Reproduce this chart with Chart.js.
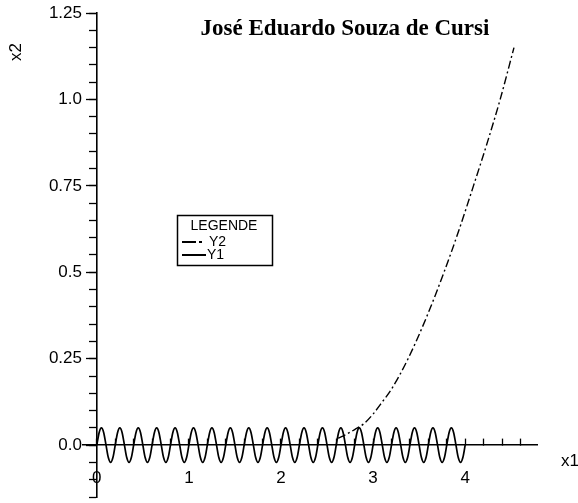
<!DOCTYPE html>
<html>
<head>
<meta charset="utf-8">
<script src="https://cdn.jsdelivr.net/npm/chart.js@4"></script>
<style>
html, body { margin: 0; padding: 0; background: #fff; }
#wrap { width: 578px; height: 503px; }
</style>
</head>
<body>
<div id="wrap"><canvas id="chart"></canvas></div>
<script>
// Y1: oscillation read at eighth periods
const y1X = [
    0, 0.025, 0.05, 0.075, 0.1, 0.125, 0.15, 0.175, 0.2, 0.225, 0.25, 0.275, 0.3, 0.325, 0.35, 0.375, 0.4, 0.425, 0.45, 0.475,
    0.5, 0.525, 0.55, 0.575, 0.6, 0.625, 0.65, 0.675, 0.7, 0.725, 0.75, 0.775, 0.8, 0.825, 0.85, 0.875, 0.9, 0.925, 0.95, 0.975,
    1, 1.025, 1.05, 1.075, 1.1, 1.125, 1.15, 1.175, 1.2, 1.225, 1.25, 1.275, 1.3, 1.325, 1.35, 1.375, 1.4, 1.425, 1.45, 1.475,
    1.5, 1.525, 1.55, 1.575, 1.6, 1.625, 1.65, 1.675, 1.7, 1.725, 1.75, 1.775, 1.8, 1.825, 1.85, 1.875, 1.9, 1.925, 1.95, 1.975,
    2, 2.025, 2.05, 2.075, 2.1, 2.125, 2.15, 2.175, 2.2, 2.225, 2.25, 2.275, 2.3, 2.325, 2.35, 2.375, 2.4, 2.425, 2.45, 2.475,
    2.5, 2.525, 2.55, 2.575, 2.6, 2.625, 2.65, 2.675, 2.7, 2.725, 2.75, 2.775, 2.8, 2.825, 2.85, 2.875, 2.9, 2.925, 2.95, 2.975,
    3, 3.025, 3.05, 3.075, 3.1, 3.125, 3.15, 3.175, 3.2, 3.225, 3.25, 3.275, 3.3, 3.325, 3.35, 3.375, 3.4, 3.425, 3.45, 3.475,
    3.5, 3.525, 3.55, 3.575, 3.6, 3.625, 3.65, 3.675, 3.7, 3.725, 3.75, 3.775, 3.8, 3.825, 3.85, 3.875, 3.9, 3.925, 3.95, 3.975,
    4
];
const y1Y = [
    0, 0.036, 0.05, 0.036, 0, -0.036, -0.05, -0.036, 0, 0.036, 0.05, 0.036, 0, -0.036, -0.05, -0.036, 0, 0.036, 0.05, 0.036,
    0, -0.036, -0.05, -0.036, 0, 0.036, 0.05, 0.036, 0, -0.036, -0.05, -0.036, 0, 0.036, 0.05, 0.036, 0, -0.036, -0.05, -0.036,
    0, 0.036, 0.05, 0.036, 0, -0.036, -0.05, -0.036, 0, 0.036, 0.05, 0.036, 0, -0.036, -0.05, -0.036, 0, 0.036, 0.05, 0.036,
    0, -0.036, -0.05, -0.036, 0, 0.036, 0.05, 0.036, 0, -0.036, -0.05, -0.036, 0, 0.036, 0.05, 0.036, 0, -0.036, -0.05, -0.036,
    0, 0.036, 0.05, 0.036, 0, -0.036, -0.05, -0.036, 0, 0.036, 0.05, 0.036, 0, -0.036, -0.05, -0.036, 0, 0.036, 0.05, 0.036,
    0, -0.036, -0.05, -0.036, 0, 0.036, 0.05, 0.036, 0, -0.036, -0.05, -0.036, 0, 0.036, 0.05, 0.036, 0, -0.036, -0.05, -0.036,
    0, 0.036, 0.05, 0.036, 0, -0.036, -0.05, -0.036, 0, 0.036, 0.05, 0.036, 0, -0.036, -0.05, -0.036, 0, 0.036, 0.05, 0.036,
    0, -0.036, -0.05, -0.036, 0, 0.036, 0.05, 0.036, 0, -0.036, -0.05, -0.036, 0, 0.036, 0.05, 0.036, 0, -0.036, -0.05, -0.036,
    0
];

// Y2: rising curve
const y2X = [2.62, 2.70, 2.80, 2.90, 3.0, 3.1, 3.2, 3.38, 3.58, 3.77, 3.93, 4.09, 4.24, 4.38, 4.53];
const y2Y = [0.02, 0.03, 0.045, 0.062, 0.09, 0.125, 0.162, 0.25, 0.37, 0.5, 0.62, 0.75, 0.875, 1.0, 1.15];

// ticks
const xTickValues = [0, 0.2, 0.4, 0.6, 0.8, 1, 1.2, 1.4, 1.6, 1.8, 2, 2.2, 2.4, 2.6, 2.8, 3, 3.2, 3.4, 3.6, 3.8, 4, 4.2, 4.4, 4.6];
const xLabelValues = [0, 1, 2, 3, 4];
const xLabelTexts = ['0', '1', '2', '3', '4'];
const yTickValues = [-0.15, -0.1, -0.05, 0, 0.05, 0.1, 0.15, 0.2, 0.25, 0.3, 0.35, 0.4, 0.45, 0.5, 0.55, 0.6,
    0.65, 0.7, 0.75, 0.8, 0.85, 0.9, 0.95, 1, 1.05, 1.1, 1.15, 1.2, 1.25];
const yLabelValues = [0, 0.25, 0.5, 0.75, 1, 1.25];
const yLabelTexts = ['0.0', '0.25', '0.5', '0.75', '1.0', '1.25'];

const seriesNames = ['Y1', 'Y2'];
const chartTitle = 'José Eduardo Souza de Cursi';
const legendTitle = 'LEGENDE';

const Y_MIN = -0.15, Y_MAX = 1.25;
const tickFont = { family: 'Liberation Sans', size: 17 };

// scales sit on the data, so they take no room in the layout
function noRoom(s) {
    if (s.isHorizontal()) s.height = 0; else s.width = 0;
    s.paddingTop = 0; s.paddingBottom = 0; s.paddingLeft = 0; s.paddingRight = 0;
}

const decorPlugin = {
    id: 'decor',
    afterDraw(chart) {
        const ctx = chart.ctx;
        ctx.save();
        ctx.fillStyle = '#000';
        ctx.strokeStyle = '#000';

        // title
        ctx.font = 'bold 23px "Liberation Serif"';
        ctx.textAlign = 'center';
        ctx.textBaseline = 'alphabetic';
        ctx.fillText(chartTitle, 345, 35);

        // axis names
        ctx.font = '17px "Liberation Sans"';
        ctx.textBaseline = 'middle';
        ctx.fillText('x1', 570, 461);
        ctx.save();
        ctx.translate(16, 52);
        ctx.rotate(-Math.PI / 2);
        ctx.fillText('x2', 0, 0);
        ctx.restore();

        // legend box
        ctx.lineWidth = 1.5;
        ctx.strokeRect(177.5, 215.5, 95, 50);
        ctx.font = '14px "Liberation Sans"';
        ctx.fillText(legendTitle, 224, 226);
        ctx.textAlign = 'left';
        ctx.fillText(seriesNames[1], 209, 242);
        ctx.fillText(seriesNames[0], 207, 255);

        ctx.lineWidth = 2;
        ctx.beginPath();
        ctx.moveTo(182, 242); ctx.lineTo(196, 242);
        ctx.moveTo(199, 242); ctx.lineTo(202, 242);
        ctx.stroke();
        ctx.beginPath();
        ctx.moveTo(182, 255); ctx.lineTo(206, 255);
        ctx.stroke();
        ctx.restore();
    }
};

new Chart(document.getElementById('chart'), {
    type: 'line',
    data: {
        datasets: [{
            label: seriesNames[0],
            data: y1X.map((x, i) => ({ x: x, y: y1Y[i] })),
            borderColor: '#000',
            borderWidth: 1.7,
            pointRadius: 0,
            cubicInterpolationMode: 'monotone',
            fill: false
        }, {
            label: seriesNames[1],
            data: y2X.map((x, i) => ({ x: x, y: y2Y[i] })),
            borderColor: '#000',
            borderWidth: 1.4,
            borderDash: [8, 3, 2, 3],
            pointRadius: 0,
            cubicInterpolationMode: 'monotone',
            fill: false
        }]
    },
    options: {
        responsive: true,
        maintainAspectRatio: false,
        animation: false,
        devicePixelRatio: 1,
        layout: { padding: { left: 0, right: 41, top: 13, bottom: 6 } },
        plugins: {
            legend: { display: false },
            tooltip: { enabled: false }
        },
        scales: {
            x: {
                type: 'linear',
                min: -0.15,
                max: 4.78,
                position: { y: 0 },
                afterFit: noRoom,
                afterBuildTicks: (s) => { s.ticks = xTickValues.map(v => ({ value: v })); },
                ticks: {
                    autoSkip: false,
                    maxRotation: 0,
                    padding: 30,
                    color: '#000',
                    font: tickFont,
                    callback: (v) => {
                        const i = xLabelValues.indexOf(v);
                        return i >= 0 ? xLabelTexts[i] : '';
                    }
                },
                grid: { drawOnChartArea: false, drawTicks: true, tickLength: -7, tickWidth: 1.3, color: '#000' },
                border: { display: true, color: '#000', width: 1.6 }
            },
            y: {
                type: 'linear',
                min: Y_MIN,
                max: Y_MAX,
                position: { x: 0 },
                afterFit: noRoom,
                afterBuildTicks: (s) => { s.ticks = yTickValues.map(v => ({ value: v })); },
                ticks: { display: false },
                grid: { drawOnChartArea: false, drawTicks: true, tickLength: 7, tickWidth: 1.3, color: '#000' },
                border: { display: true, color: '#000', width: 1.6 }
            },
            yMajor: {
                type: 'linear',
                min: Y_MIN,
                max: Y_MAX,
                position: { x: 0 },
                afterFit: noRoom,
                afterBuildTicks: (s) => { s.ticks = yLabelValues.map(v => ({ value: v })); },
                ticks: { display: false },
                grid: { drawOnChartArea: false, drawTicks: true, tickLength: 11, tickWidth: 1.3, color: '#000' },
                border: { display: false }
            },
            yLabels: {
                type: 'linear',
                min: Y_MIN,
                max: Y_MAX,
                position: 'left',
                afterFit: (s) => {
                    s.width = 83;
                    s.paddingTop = 0; s.paddingBottom = 0;
                },
                afterBuildTicks: (s) => { s.ticks = yLabelValues.map(v => ({ value: v })); },
                ticks: {
                    autoSkip: false,
                    padding: 1,
                    color: '#000',
                    font: tickFont,
                    callback: (v) => {
                        const i = yLabelValues.indexOf(v);
                        return i >= 0 ? yLabelTexts[i] : '';
                    }
                },
                grid: { display: false, drawTicks: false },
                border: { display: false }
            }
        }
    },
    plugins: [decorPlugin]
});
</script>
</body>
</html>
